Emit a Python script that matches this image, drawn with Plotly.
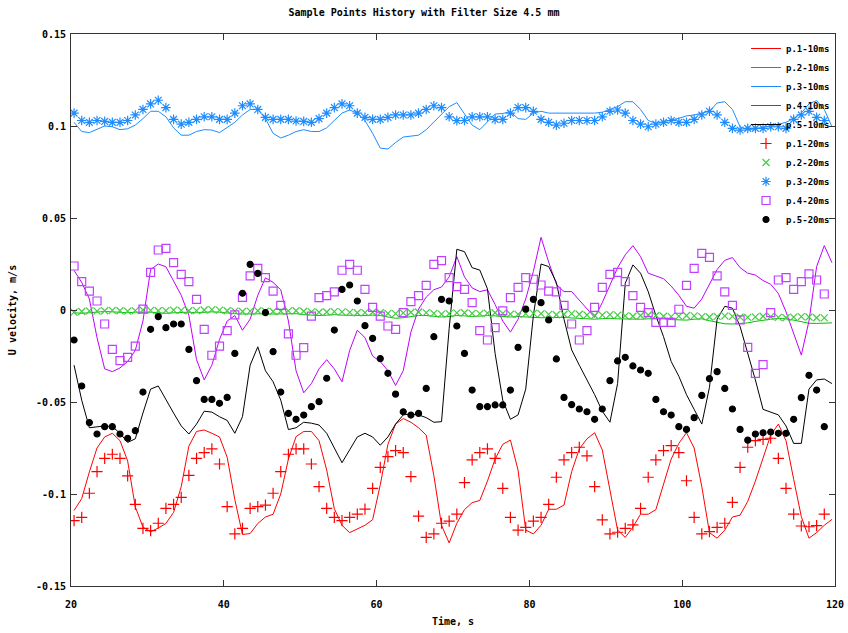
import numpy as np
import plotly.graph_objects as go

# ---------------- data ----------------
# sampling grid (s) : lines use 100 samples, the 20ms series 99 samples
TIME = np.linspace(20.4, 119.6, 100)
TIME_PTS = TIME[:99]

P1_10 = [-0.109, -0.1025, -0.088, -0.075, -0.069, -0.067, -0.071, -0.082, -0.107, -0.118,
         -0.1205, -0.1185, -0.116, -0.110, -0.096, -0.074, -0.066, -0.0652, -0.067, -0.069,
         -0.080, -0.103, -0.122, -0.1215, -0.116, -0.1125, -0.111, -0.100, -0.081, -0.0688,
         -0.066, -0.066, -0.071, -0.087, -0.108, -0.117, -0.121, -0.119, -0.117, -0.114,
         -0.095, -0.073, -0.062, -0.059, -0.061, -0.064, -0.068, -0.090, -0.117, -0.1266,
         -0.1159, -0.1085, -0.1047, -0.1035, -0.093, -0.081, -0.073, -0.0707, -0.087, -0.1196,
         -0.1217, -0.117, -0.1083, -0.1083, -0.106, -0.0878, -0.0755, -0.070, -0.0667, -0.076,
         -0.0978, -0.1196, -0.1236, -0.118, -0.111, -0.111, -0.1085, -0.095, -0.081, -0.0725,
         -0.0667, -0.075, -0.096, -0.121, -0.124, -0.1196, -0.1125, -0.1115, -0.104, -0.093,
         -0.080, -0.068, -0.062, -0.071, -0.092, -0.1123, -0.124, -0.121, -0.117, -0.1138]

P2_10 = [-0.0015, -0.0018, -0.0015, -0.001, -0.0008, -0.001, -0.0013, -0.0015, -0.0012, -0.001,
         -0.0012, -0.0015, -0.0018, -0.0015, -0.0012, -0.0012, -0.0015, -0.0012, -0.001, -0.0012,
         -0.0018, -0.002, -0.0022, -0.002, -0.0018, -0.002, -0.0022, -0.002, -0.0018, -0.002,
         -0.0025, -0.0028, -0.003, -0.0028, -0.0025, -0.0028, -0.003, -0.0032, -0.003, -0.0028,
         -0.003, -0.0038, -0.0045, -0.0042, -0.0035, -0.003, -0.003, -0.0035, -0.0038, -0.0035,
         -0.003, -0.0032, -0.0035, -0.0033, -0.003, -0.0032, -0.0036, -0.0038, -0.0035, -0.0036,
         -0.004, -0.0042, -0.004, -0.0038, -0.004, -0.0043, -0.0045, -0.0048, -0.005, -0.0047,
         -0.0045, -0.0048, -0.005, -0.0052, -0.005, -0.0048, -0.0046, -0.0048, -0.0052, -0.0055,
         -0.0055, -0.005, -0.0048, -0.0058, -0.0068, -0.0075, -0.0076, -0.0075, -0.007, -0.0062,
         -0.0055, -0.005, -0.0046, -0.0048, -0.0055, -0.0065, -0.0072, -0.0073, -0.0072, -0.007]

P3_10 = [0.102, 0.097, 0.0964, 0.098, 0.100, 0.0996, 0.098, 0.0985, 0.1005, 0.104,
         0.108, 0.108, 0.105, 0.099, 0.095, 0.095, 0.097, 0.098, 0.0978, 0.0964,
         0.099, 0.102, 0.106, 0.109, 0.109, 0.104, 0.096, 0.0935, 0.095, 0.097,
         0.098, 0.097, 0.097, 0.099, 0.103, 0.107, 0.1087, 0.107, 0.103, 0.096,
         0.088, 0.0875, 0.091, 0.094, 0.0945, 0.095, 0.098, 0.102, 0.1065, 0.1105,
         0.1127, 0.1065, 0.1005, 0.098, 0.102, 0.1065, 0.1068, 0.1078, 0.104, 0.1036,
         0.107, 0.108, 0.107, 0.107, 0.107, 0.107, 0.107, 0.107, 0.107, 0.1075,
         0.109, 0.1105, 0.1132, 0.1132, 0.109, 0.103, 0.1014, 0.1022, 0.103, 0.1042,
         0.1055, 0.106, 0.107, 0.108, 0.1125, 0.1132, 0.109, 0.0996, 0.0978, 0.0985,
         0.099, 0.100, 0.101, 0.102, 0.104, 0.107, 0.112, 0.1138, 0.109, 0.0996]

P4_10 = [0.0215, 0.015, 0.006, -0.015, -0.032, -0.0335, -0.0315, -0.028, -0.022, -0.006,
         0.022, 0.025, 0.0235, 0.016, 0.008, -0.003, -0.027, -0.038, -0.030, -0.016,
         -0.006, -0.003, -0.011, -0.005, 0.008, 0.0175, 0.015, 0.011, -0.006, -0.033,
         -0.045, -0.040, -0.032, -0.027, -0.032, -0.039, -0.022, -0.011, -0.015, -0.025,
         -0.028, -0.033, -0.041, -0.033, -0.012, 0.0005, 0.007, 0.011, 0.0125, 0.018,
         0.029, 0.018, 0.012, 0.010, 0.011, 0.003, -0.006, -0.012, -0.005, 0.006,
         0.021, 0.0395, 0.026, 0.014, 0.010, 0.010, 0.0055, 0.0005, -0.004, 0.004,
         0.014, 0.023, 0.030, 0.035, 0.029, 0.020, 0.0185, 0.017, 0.013, 0.008,
         0.002, 0.001, 0.006, 0.014, 0.022, 0.027, 0.0285, 0.023, 0.020, 0.019,
         0.016, 0.014, 0.009, -0.001, -0.013, -0.0245, -0.006, 0.0236, 0.035, 0.0257]

P5_10 = [-0.030, -0.049, -0.064, -0.0634, -0.063, -0.0634, -0.067, -0.072, -0.070, -0.056,
         -0.043, -0.0413, -0.049, -0.056, -0.063, -0.0674, -0.062, -0.055, -0.0555, -0.058,
         -0.060, -0.067, -0.058, -0.030, -0.020, -0.033, -0.039, -0.049, -0.065, -0.064,
         -0.061, -0.0615, -0.0625, -0.067, -0.075, -0.083, -0.076, -0.069, -0.067, -0.069,
         -0.0735, -0.069, -0.062, -0.057, -0.0565, -0.057, -0.0585, -0.061, -0.0607, -0.010,
         0.033, 0.0317, 0.023, 0.0217, 0.0115, -0.0236, -0.049, -0.0594, -0.057, -0.043,
         -0.003, 0.025, 0.0236, 0.015, -0.005, -0.0217, -0.030, -0.038, -0.046, -0.055,
         -0.061, -0.040, 0.0145, 0.0245, 0.020, 0.010, -0.003, -0.0145, -0.028, -0.036,
         -0.046, -0.054, -0.062, -0.042, -0.005, 0.002, 0.001, -0.009, -0.023, -0.038,
         -0.054, -0.0555, -0.057, -0.063, -0.0725, -0.0725, -0.043, -0.038, -0.0375, -0.040]

P1_20 = [-0.1145, -0.1127, -0.0996, -0.0878, -0.0806, -0.0784, -0.0806, -0.0902, -0.1056, -0.1187,
         -0.1199, -0.1159, -0.1078, -0.1056, -0.1018, -0.0899, -0.0806, -0.0775, -0.0755, -0.0837,
         -0.1069, -0.1217, -0.1187, -0.1078, -0.1069, -0.106, -0.0996, -0.0878, -0.0784, -0.0755,
         -0.0755, -0.0837, -0.096, -0.1078, -0.1127, -0.1145, -0.1127, -0.1109, -0.1082, -0.0969,
         -0.0855, -0.0797, -0.0764, -0.0775, -0.0906, -0.112, -0.1236, -0.1217, -0.1159, -0.1147,
         -0.1109, -0.0938, -0.0815, -0.0775, -0.0755, -0.0806, -0.0969, -0.1127, -0.1196, -0.1181,
         -0.1147, -0.1127, -0.1056, -0.0909, -0.0815, -0.0775, -0.0746, -0.0793, -0.096, -0.1141,
         -0.1217, -0.1208, -0.1187, -0.1168, -0.1078, -0.0909, -0.0815, -0.0764, -0.0737, -0.0775,
         -0.0928, -0.1127, -0.1217, -0.1205, -0.1181, -0.1159, -0.1045, -0.0855, -0.0746, -0.071,
         -0.0703, -0.0697, -0.0806, -0.0969, -0.1109, -0.1174, -0.1178, -0.1172, -0.1109]

P2_20 = [-0.0012, -0.0008, -0.0005, -0.0006, -0.0004, -0.0002, -0.0004, -0.0006, -0.0003, 0.0,
         -0.0002, -0.0004, -0.0003, -0.0001, -0.0002, -0.0004, -0.0003, 0.0, 0.0002, -0.0001,
         -0.0004, -0.0006, -0.0008, -0.0006, -0.0004, -0.0006, -0.0008, -0.0007, -0.0005, -0.0004,
         -0.0007, -0.001, -0.0012, -0.0011, -0.0009, -0.001, -0.0013, -0.0015, -0.0014, -0.0012,
         -0.0015, -0.0018, -0.002, -0.0016, -0.0012, -0.0011, -0.0014, -0.0018, -0.0022, -0.002,
         -0.0016, -0.0015, -0.0018, -0.002, -0.0017, -0.0015, -0.0018, -0.0022, -0.0024, -0.002,
         -0.0018, -0.002, -0.0024, -0.0026, -0.0023, -0.002, -0.0023, -0.0027, -0.003, -0.0028,
         -0.0025, -0.0028, -0.0032, -0.0034, -0.003, -0.0027, -0.003, -0.0034, -0.0036, -0.0033,
         -0.003, -0.0032, -0.0036, -0.0038, -0.0035, -0.0032, -0.0035, -0.0039, -0.004, -0.0037,
         -0.0034, -0.0036, -0.004, -0.0042, -0.0039, -0.0036, -0.0038, -0.0042, -0.0043]

P3_20 = [0.107, 0.103, 0.102, 0.103, 0.1025, 0.102, 0.102, 0.103, 0.106, 0.109,
         0.112, 0.114, 0.110, 0.1036, 0.101, 0.102, 0.1036, 0.105, 0.105, 0.1036,
         0.1036, 0.107, 0.111, 0.112, 0.109, 0.1047, 0.1036, 0.1036, 0.1036, 0.1027,
         0.1025, 0.102, 0.104, 0.107, 0.110, 0.112, 0.111, 0.107, 0.1047, 0.1036,
         0.1036, 0.1047, 0.106, 0.106, 0.106, 0.107, 0.109, 0.111, 0.110, 0.105,
         0.1029, 0.103, 0.105, 0.105, 0.105, 0.1036, 0.1036, 0.107, 0.110, 0.110,
         0.108, 0.1036, 0.102, 0.1005, 0.1015, 0.103, 0.103, 0.103, 0.103, 0.105,
         0.108, 0.1087, 0.107, 0.103, 0.101, 0.0996, 0.101, 0.102, 0.103, 0.102,
         0.102, 0.1036, 0.106, 0.108, 0.106, 0.102, 0.0987, 0.0978, 0.0987, 0.0987,
         0.0987, 0.0996, 0.0996, 0.0987, 0.1036, 0.106, 0.108, 0.1047, 0.103]

P4_20 = [0.0239, 0.0154, 0.0103, 0.0049, -0.0076, -0.0214, -0.0275, -0.0257, -0.0196, 0.0005,
         0.0205, 0.0326, 0.0335, 0.0257, 0.0194, 0.0154, 0.0058, -0.0105, -0.0246, -0.0196,
         -0.0112, -0.0027, 0.0069, 0.0185, 0.0226, 0.0176, 0.0103, 0.0025, -0.013, -0.0246,
         -0.0205, -0.0033, 0.0067, 0.0078, 0.0098, 0.0216, 0.0248, 0.0216, 0.0112, 0.0014,
         -0.0033, -0.0087, -0.0105, -0.0014, 0.0045, 0.0078, 0.0134, 0.0248, 0.0268, 0.0176,
         0.0127, 0.0112, 0.004, -0.0112, -0.0163, -0.0096, -0.0005, 0.0067, 0.0123, 0.0176,
         0.0167, 0.0136, 0.0103, 0.0098, 0.0025, -0.0076, -0.0163, -0.0112, 0.0014, 0.0123,
         0.0194, 0.0205, 0.0154, 0.0078, 0.0014, -0.0014, -0.0067, -0.0067, -0.0067, 0.0004,
         0.0134, 0.0226, 0.0308, 0.0286, 0.0185, 0.0098, 0.0025, -0.0054, -0.0203, -0.0344,
         -0.0297, -0.0014, 0.0163, 0.0176, 0.0112, 0.0154, 0.0196, 0.0163, 0.0087]

P5_20 = [-0.0163, -0.0413, -0.0612, -0.0674, -0.0634, -0.0634, -0.0674, -0.0697, -0.0656, -0.0446,
         -0.0105, -0.0036, -0.0096, -0.0076, -0.0076, -0.0214, -0.0384, -0.0486, -0.0486, -0.0507,
         -0.0475, -0.0236, 0.0091, 0.0248, 0.0199, -0.0014, -0.0226, -0.0446, -0.0562, -0.0594,
         -0.0571, -0.0525, -0.0498, -0.0371, -0.0109, 0.0112, 0.0136, 0.0049, -0.0085, -0.0154,
         -0.0264, -0.0344, -0.0457, -0.0553, -0.0571, -0.0562, -0.0426, -0.0145, 0.0058, 0.0049,
         -0.0087, -0.0236, -0.0435, -0.0525, -0.0525, -0.0516, -0.0516, -0.0435, -0.0203, 0.0005,
         0.0058, 0.004, -0.0054, -0.0266, -0.0475, -0.0514, -0.0538, -0.0553, -0.0594, -0.0538,
         -0.0384, -0.0277, -0.0257, -0.0304, -0.0326, -0.0344, -0.0486, -0.0553, -0.0571, -0.0634,
         -0.0649, -0.0585, -0.0464, -0.0373, -0.0335, -0.0426, -0.0538, -0.0649, -0.0707, -0.0674,
         -0.0667, -0.0663, -0.067, -0.067, -0.0594, -0.0476, -0.0355, -0.0435, -0.0634]

Y_TICKS = [0.15, 0.1, 0.05, 0, -0.05, -0.1, -0.15]
Y_TICK_TEXT = ["0.15", "0.1", "0.05", "0", "-0.05", "-0.1", "-0.15"]
X_TICKS = [20, 40, 60, 80, 100, 120]

# ---------------- style ----------------
FONT = "DejaVu Sans Mono"
RED, GREEN, BLUE, PURPLE, BLACK = "#ff0000", "#00c000", "#1e8cff", "#c000ff", "#000000"

fig = go.Figure()
line_series = [("p.1-10ms", P1_10, RED), ("p.2-10ms", P2_10, GREEN),
               ("p.3-10ms", P3_10, BLUE), ("p.4-10ms", P4_10, PURPLE),
               ("p.5-10ms", P5_10, BLACK)]
for name, vals, col in line_series:
    fig.add_trace(go.Scatter(x=TIME, y=vals, mode="lines", name=name,
                             line=dict(color=col, width=1)))

marker_series = [("p.1-20ms", P1_20, RED, "cross-thin", 8, RED),
                 ("p.2-20ms", P2_20, "#44cc44", "x-thin", 7, "#44cc44"),
                 ("p.3-20ms", P3_20, BLUE, "asterisk", 8, BLUE),
                 ("p.4-20ms", P4_20, "#c040ff", "square-open", 8, "#c040ff"),
                 ("p.5-20ms", P5_20, BLACK, "circle", 6, BLACK)]
for name, vals, col, sym, size, lcol in marker_series:
    fig.add_trace(go.Scatter(x=TIME_PTS, y=vals, mode="markers", name=name,
                             marker=dict(symbol=sym, size=size, color=col,
                                         line=dict(color=lcol, width=1.2))))

axis_font = dict(family=FONT, size=10, color="black", weight="bold")
axis_common = dict(showgrid=False, zeroline=False, showline=True, linecolor="#333333",
                   linewidth=1, mirror="ticks", ticks="inside", ticklen=6,
                   tickcolor="#333333", tickfont=axis_font)

fig.update_layout(
    width=848, height=633,
    margin=dict(l=71, r=13, t=34, b=47, autoexpand=False),
    paper_bgcolor="white", plot_bgcolor="white",
    title=dict(text="Sample Points History with Filter Size 4.5 mm",
               font=axis_font, x=0.5, xanchor="center", y=0.985, yanchor="top"),
    xaxis=dict(range=[20, 120], tickvals=X_TICKS, ticklabelstandoff=9, **axis_common,
               title=dict(text="Time, s", font=axis_font, standoff=8)),
    yaxis=dict(range=[-0.15, 0.15], tickvals=Y_TICKS, ticktext=Y_TICK_TEXT,
               ticklabelstandoff=2, **axis_common,
               title=dict(text="U velocity, m/s", font=axis_font, standoff=17)),
    legend=dict(x=1, y=1, xanchor="right", yanchor="top", bgcolor="rgba(0,0,0,0)",
                font=dict(family=FONT, size=9, color="black", weight="bold"),
                tracegroupgap=0, itemwidth=30),
    showlegend=True,
)

fig.write_html("out.html")
